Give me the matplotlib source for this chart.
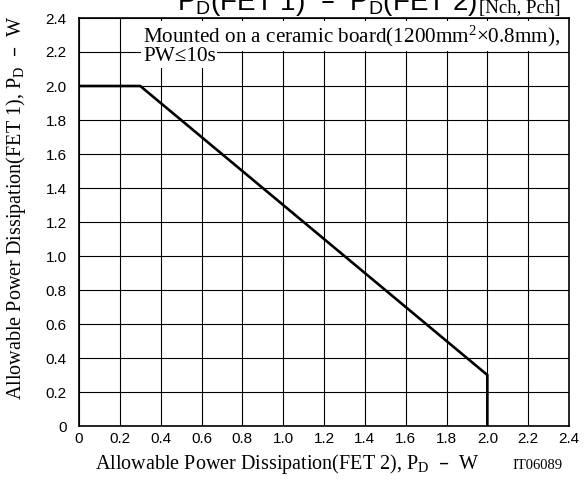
import matplotlib
matplotlib.use("Agg")
import matplotlib.pyplot as plt
import numpy as np

# Data
pd_fet2 = [0.0, 0.3, 2.0, 2.0]
pd_fet1 = [2.0, 2.0, 0.3, 0.0]
x_ticks = [0, 0.2, 0.4, 0.6, 0.8, 1.0, 1.2, 1.4, 1.6, 1.8, 2.0, 2.2, 2.4]
x_tick_labels = ["0", "0.2", "0.4", "0.6", "0.8", "1.0", "1.2", "1.4", "1.6", "1.8", "2.0", "2.2", "2.4"]
y_ticks = [0, 0.2, 0.4, 0.6, 0.8, 1.0, 1.2, 1.4, 1.6, 1.8, 2.0, 2.2, 2.4]
y_tick_labels = ["0", "0.2", "0.4", "0.6", "0.8", "1.0", "1.2", "1.4", "1.6", "1.8", "2.0", "2.2", "2.4"]

SANS = "Liberation Sans"
SERIF = "Liberation Serif"

W, H = 584, 483
fig = plt.figure(figsize=(W/100, H/100), dpi=100)
ax = fig.add_axes([79/W, (H-426)/H, 490/W, 408/H])

ax.set_xlim(0, 2.4)
ax.set_ylim(0, 2.4)
ax.set_xticks(x_ticks)
ax.set_xticklabels(x_tick_labels, family=SANS, fontsize=11)
ax.set_yticks(y_ticks)
ax.set_yticklabels(y_tick_labels, family=SANS, fontsize=11)
ax.tick_params(axis="x", length=0, pad=4)
ax.tick_params(axis="y", length=0, pad=9)
ax.grid(True, color="black", linewidth=0.8)
ax.set_axisbelow(True)
for s in ax.spines.values():
    s.set_linewidth(1.2)

ax.plot(pd_fet2, pd_fet1, color="black", linewidth=1.9, solid_joinstyle="miter", zorder=3)

# annotation text with white background
ax.text(0.313, 2.259, "Mounted on a ceramic board(1200mm$\\mathregular{^2}$\u00d70.8mm),",
        family=SERIF, fontsize=15.2, va="baseline", ha="left", zorder=4,
        bbox=dict(facecolor="white", edgecolor="none", pad=1.5))
ax.text(0.313, 2.145, "PW\u226410s", family=SERIF, fontsize=15.2, va="baseline", ha="left",
        zorder=4, bbox=dict(facecolor="white", edgecolor="none", pad=1.0))

# axis labels
fig.text(287/W, 1 - 469/H, "Allowable Power Dissipation(FET 2), $\\mathregular{P_D}$  \u2013  W",
         family=SERIF, fontsize=14.5, ha="center", va="baseline")
fig.text(512/W, 1 - 469/H, "IT06089", family=SERIF, fontsize=10.5, ha="left", va="baseline")
fig.text(16/W, 1 - 208/H, "Allowable Power Dissipation(FET 1), $\\mathregular{P_D}$  \u2013  W",
         family=SERIF, fontsize=14.5, ha="center", va="center", rotation=90)

# title (partially cut off at top)
fig.text(177/W, 1 - 10/H, "$\\mathregular{P_D}$(FET 1)  \u2013  $\\mathregular{P_D}$(FET 2)",
         family=SANS, fontsize=20, ha="left", va="baseline")
fig.text(479/W, 1 - 13/H, "[Nch, Pch]", family=SERIF, fontsize=13.5,
         ha="left", va="baseline")

fig.savefig("out.png", dpi=100)
